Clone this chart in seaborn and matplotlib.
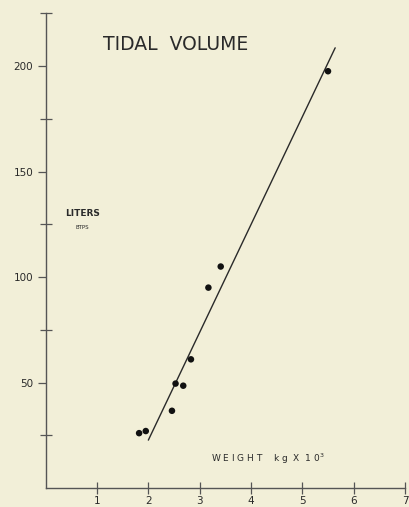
import matplotlib
matplotlib.use("Agg")
import matplotlib.pyplot as plt
import seaborn as sns
import numpy as np

# Data
weight = [1.82, 1.95, 2.46, 2.53, 2.68, 2.83, 3.17, 3.41, 5.50]
tidal_volume = [26, 27, 36.6, 49.5, 48.5, 61, 95, 105, 197.6]
fit_x = [2.00, 5.64]
fit_y = [22.7, 208.7]
x_ticks = [1, 2, 3, 4, 5, 6, 7]
y_major = [50, 100, 150, 200]
y_minor = [25, 75, 125, 175, 225]

sns.set_style("white")
plt.rcParams['font.family'] = ['DejaVu Sans']
bg = "#f2efd8"
ink = "#2a2a2a"

fig = plt.figure(figsize=(4.09, 5.07), dpi=100, facecolor=bg)
ax = fig.add_axes([0.1117, 0.0375, 0.8785, 0.936], facecolor=bg)

sns.lineplot(x=fit_x, y=fit_y, ax=ax, color=ink, linewidth=1.0)
sns.scatterplot(x=weight, y=tidal_volume, ax=ax, color="#111111", s=22,
                edgecolor="none", zorder=3)

ax.set_xlim(0, 7)
ax.set_ylim(0, 225)
for s in ["top", "right"]:
    ax.spines[s].set_visible(False)
for s in ["left", "bottom"]:
    ax.spines[s].set_color("#555555")
    ax.spines[s].set_linewidth(1.0)

ax.set_xticks(x_ticks)
ax.set_xticklabels([str(t) for t in x_ticks])
ax.set_yticks(y_major)
ax.set_yticklabels([str(t) for t in y_major])
ax.set_yticks(y_minor, minor=True)
ax.tick_params(axis="x", which="major", bottom=True, direction="inout", length=8,
               width=0.9, color="#555555", labelsize=7.5, labelcolor=ink, pad=2)
ax.tick_params(axis="y", which="major", left=True, direction="out", length=6,
               width=0.9, color="#555555", labelsize=7.5, labelcolor=ink, pad=3)
ax.tick_params(axis="y", which="minor", left=True, direction="inout", length=8,
               width=0.9, color="#555555")

ax.text(2.53, 210.5, "TIDAL  VOLUME", fontsize=13.5, color=ink,
        ha="center", va="center")
ax.text(0.72, 130, "LITERS", fontsize=6.5, color=ink, ha="center",
        va="center", fontweight="bold")
ax.text(0.72, 123.5, "BTPS", fontsize=4, color=ink, ha="center", va="center")
ax.text(3.22, 13.7, "W E I G H T    k g  X  1 0$^3$", fontsize=6.5, color=ink,
        ha="left", va="center")

ax.set_xlabel("")
ax.set_ylabel("")
fig.savefig("out.png", dpi=100, facecolor=bg)
